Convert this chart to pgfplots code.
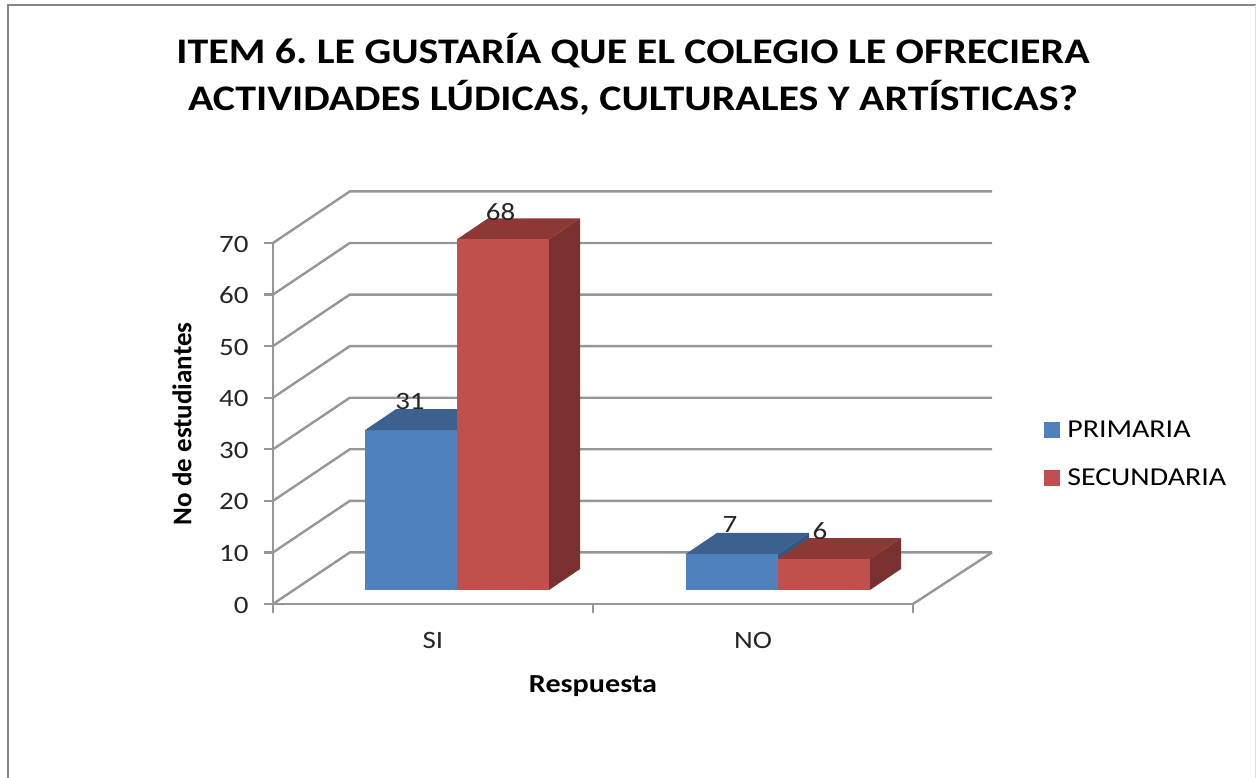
\documentclass[border=0pt]{standalone}
\usepackage{fontspec}
\setmainfont[FakeStretch=1.16]{Carlito}
\newfontfamily\plainfont{Carlito}
\newfontfamily\titlefont[FakeStretch=1.165]{Carlito}
\usepackage{pgfplots}
\pgfplotsset{compat=1.18}

\definecolor{gridgray}{HTML}{969696}
\definecolor{framegray}{HTML}{868686}
\definecolor{bluefront}{HTML}{4F81BD}
\definecolor{bluetop}{HTML}{3C618E}
\definecolor{blueside}{HTML}{355680}
\definecolor{redfront}{HTML}{C0504D}
\definecolor{redtop}{HTML}{8E3836}
\definecolor{redside}{HTML}{7A302E}

\begin{document}
\begin{tikzpicture}[x=1pt,y=1pt]
\path[use as bounding box] (0,0) rectangle (1256,778);
\draw[framegray,line width=2.6pt] (8,0) -- (8,773) -- (1256,773);
\draw[black!12,line width=1pt] (1255.5,0) -- (1255.5,773);
\begin{axis}[
  at={(273pt,174pt)},anchor=origin,
  scale only axis,width=640pt,height=361pt,
  xmin=0,xmax=2,ymin=0,ymax=70,clip=false,
  axis lines=left,axis line style={-,gridgray,line width=2.4pt},
  xtick={0.5,1.5},xticklabels={SI,NO},
  minor xtick={0,1,2},
  ytick={0,10,...,70},
  tick style={gridgray,line width=2.4pt},
  major tick length=9pt,
  minor tick length=9pt,
  tick align=outside,
  x tick style={draw=none},
  minor x tick style={draw=gridgray},
  /pgf/number format/assume math mode=true,
  tick label style={font=\fontsize{25}{28}\selectfont,text=black!85},
  x tick label style={yshift=-16pt},
  y tick label style={xshift=-12pt,yshift=-1pt},
  xlabel={\textbf{Respuesta}},
  ylabel={\plainfont\textbf{No de estudiantes}},
  xlabel style={font=\fontsize{26}{30}\selectfont,at={(axis description cs:0.5,-0.228)},anchor=center},
  ylabel style={font=\fontsize{27}{30}\selectfont,at={(axis description cs:-0.142,0.499)},anchor=center,rotate=0},
  title style={at={(axis description cs:0.5625,1.451)},anchor=center,align=center,
    font=\titlefont\fontsize{36}{47}\selectfont\bfseries\frenchspacing},
  title={ITEM 6. LE GUSTARÍA QUE EL COLEGIO LE OFRECIERA\\ACTIVIDADES LÚDICAS, CULTURALES Y ARTÍSTICAS?},
  legend cell align=left,
  legend style={at={(axis description cs:1.1995,0.52)},anchor=north west,draw=none,fill=none,
    font=\fontsize{25.8}{28}\selectfont,/tikz/row sep=26pt,
    /tikz/every odd column/.style={column sep=6pt}},
  legend image code/.code={\fill[#1] (0pt,-7.5pt) rectangle (15pt,7.5pt);},
  grid line/.style={gridgray,line width=2.4pt,forget plot},
  bar face/.style={fill=#1,draw=none,yshift=14pt,xshift=0pt,forget plot},
]
% gridlines: side wall, then back wall
\addplot[grid line] coordinates {(0,0) (0.24,10) (2.247,10)};
\addplot[grid line] coordinates {(0,10) (0.24,20) (2.247,20)};
\addplot[grid line] coordinates {(0,20) (0.24,30) (2.247,30)};
\addplot[grid line] coordinates {(0,30) (0.24,40) (2.247,40)};
\addplot[grid line] coordinates {(0,40) (0.24,50) (2.247,50)};
\addplot[grid line] coordinates {(0,50) (0.24,60) (2.247,60)};
\addplot[grid line] coordinates {(0,60) (0.24,70) (2.247,70)};
\addplot[grid line] coordinates {(0,70) (0.24,80) (2.247,80)};
\addplot[grid line] coordinates {(2,0) (2.247,10)};
% PRIMARIA SI = 31
\addplot[bar face=bluefront] coordinates {(0.2875,0) (0.2875,31) (0.575,31) (0.575,0)};
\addplot[bar face=bluetop] coordinates {(0.2875,31) (0.575,31) (0.6719,35.07) (0.3844,35.07)};
% SECUNDARIA SI = 68
\addplot[bar face=redtop] coordinates {(0.575,68) (0.8625,68) (0.9594,72.07) (0.6719,72.07)};
\addplot[bar face=redside] coordinates {(0.8625,0) (0.8625,68) (0.9594,72.07) (0.9594,4.07)};
\addplot[bar face=redfront] coordinates {(0.575,0) (0.575,68) (0.8625,68) (0.8625,0)};
% PRIMARIA NO = 7
\addplot[bar face=bluetop] coordinates {(1.2906,7) (1.5781,7) (1.675,11.07) (1.3875,11.07)};
\addplot[bar face=blueside] coordinates {(1.5781,0) (1.5781,7) (1.675,11.07) (1.675,4.07)};
\addplot[bar face=bluefront] coordinates {(1.2906,0) (1.2906,7) (1.5781,7) (1.5781,0)};
% SECUNDARIA NO = 6
\addplot[bar face=redtop] coordinates {(1.5781,6) (1.8656,6) (1.9625,10.07) (1.675,10.07)};
\addplot[bar face=redside] coordinates {(1.8656,0) (1.8656,6) (1.9625,10.07) (1.9625,4.07)};
\addplot[bar face=redfront] coordinates {(1.5781,0) (1.5781,6) (1.8656,6) (1.8656,0)};
% value labels, placed above the top faces
\addplot[draw=none,forget plot,point meta=explicit,
  nodes near coords={\pgfmathprintnumber{\pgfplotspointmeta}},
  nodes near coords style={anchor=center,font=\fontsize{25}{28}\selectfont,text=black!85}]
  coordinates {(0.428,39.2) [31] (0.711,76.0) [68] (1.428,15.4) [7] (1.709,14.2) [6]};
\addlegendimage{bluefront}\addlegendentry{PRIMARIA}
\addlegendimage{redfront}\addlegendentry{SECUNDARIA}
\end{axis}
\end{tikzpicture}
\end{document}
